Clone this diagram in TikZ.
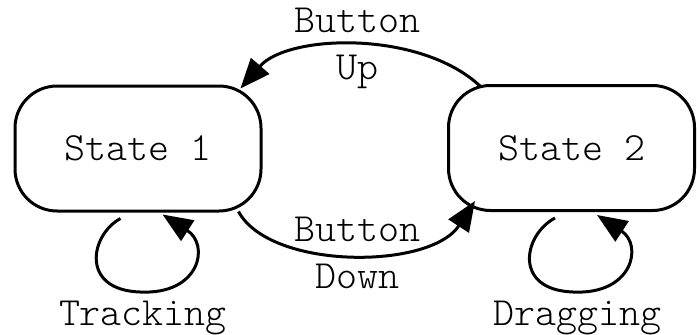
\documentclass[tikz,border=0pt]{standalone}
\usepackage{fontspec}
\setmonofont{Latin Modern Mono Light}
\usetikzlibrary{arrows.meta,calc}
\tikzset{
  state/.style={draw, line width=3pt, rounded corners=42pt, minimum width=246pt, minimum height=125pt, inner sep=0pt, font=\ttfamily\fontsize{40}{46}\selectfont},
  link/.style={line width=3pt, -{Triangle[length=30pt,width=24pt]}},
  lbl/.style={align=center, inner sep=0pt, font=\ttfamily\fontsize{40}{47}\selectfont}
}
\begin{document}
\begin{tikzpicture}[x=1pt,y=-1pt]
\useasboundingbox (0,0) rectangle (697,335);
\node[state] (s1) at (138,148.5) {State 1};
\node[state] (s2) at (571.5,148) {State 2};
% Button Up
\draw[link] ($(s2.north west)+(33,2)$) .. controls (420,30) and (288,34) .. ($(s1.north east)+(-22,4)$);
\node[lbl] (bu) at (357,48) {Button\\Up};
% Button Down
\draw[link] ($(s1.south east)+(-24,-1)$) .. controls (270,270) and (430,270) .. ($(s2.south west)+(28,-11)$);
\node[lbl] (bd) at (357,253) {Button\\Down};
% loops
\draw[link] ($(s1.south west)+(107,6)$) .. controls (90,235) and (80,290) .. (140,292)
  .. controls (200,295) and (210,245) .. ($(s1.south west)+(149,2)$);
\node[lbl] (tr) at (143,318) {Tracking};
\draw[link] ($(s2.south west)+(108,6)$) .. controls (523,235) and (513,290) .. (573,292)
  .. controls (633,295) and (643,245) .. ($(s2.south west)+(150,3)$);
\node[lbl] (dr) at (577,318) {Dragging};
\end{tikzpicture}
\end{document}
